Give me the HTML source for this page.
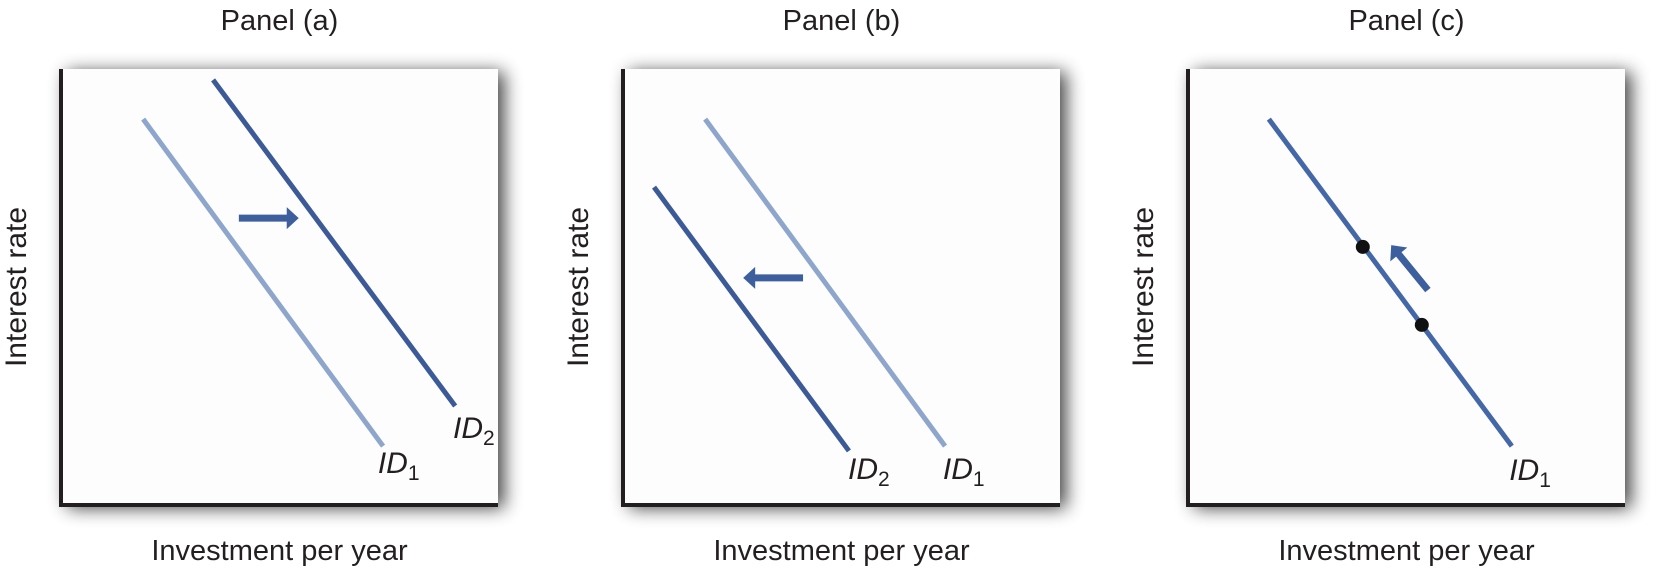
<!DOCTYPE html>
<html><head><meta charset="utf-8"><style>
html,body{margin:0;padding:0;background:#fff;width:1662px;height:570px;overflow:hidden}
svg text{font-family:"Liberation Sans",sans-serif;fill:#231f20}
</style></head><body>
<svg id="chart" width="1662" height="570" viewBox="0 0 1662 570" xmlns="http://www.w3.org/2000/svg">
<defs>
<filter id="sh" x="-12%" y="-12%" width="130%" height="130%">
<feGaussianBlur in="SourceAlpha" stdDeviation="9"/>
<feOffset dx="6" dy="3"/>
<feComponentTransfer><feFuncA type="linear" slope="0.75"/></feComponentTransfer>
<feMerge><feMergeNode/><feMergeNode in="SourceGraphic"/></feMerge>
</filter>
</defs>
</svg>
<script>
// Panel layout (pixels)
const panelLefts = [61, 623, 1188];
const panelTop = 69, panelW = 437, panelH = 436;
const panelTitles = ["Panel (a)", "Panel (b)", "Panel (c)"];
// Curve data in 0..100 data units: [x1,y1,x2,y2]
const curvesA = [[18.8, 88.5, 73.7, 13.5], [34.8, 97.5, 90.2, 22.7]];
const curvesB = [[18.8, 88.5, 73.7, 13.5], [7.1, 72.9, 51.7, 12.4]];
const curvesC = [[18.5, 88.5, 74.1, 13.5]];
const curveNames = [["ID1-light", "ID2-dark"], ["ID1-light", "ID2-dark"], ["ID1"]];
const curveColors = [["#8ea6cc", "#3b5a97"], ["#8ea6cc", "#3b5a97"], ["#4467a8"]];
const labelsA = [["1", 72.5, 7.3], ["2", 89.7, 15.4]];
const labelsB = [["2", 51.5, 6.0], ["1", 73.2, 6.0]];
const labelsC = [["1", 73.5, 5.7]];
// Arrows [x1,y1,x2,y2] (tail -> tip)
const arrows = [[40.7, 65.8, 54.4, 65.8], [41.2, 52.1, 27.5, 52.1], [54.9, 49.3, 46.5, 59.6]];
const dotsC = [[40.0, 59.2], [53.5, 41.3]];

const svg = document.getElementById('chart');
const NS = 'http://www.w3.org/2000/svg';
function mk(t, a){const e=document.createElementNS(NS,t);for(const k in a)e.setAttribute(k,a[k]);return e;}
function xs(p, v){return panelLefts[p] + v/100*panelW;}
function ys(v){return panelTop + panelH - v/100*panelH;}

const allCurves=[curvesA,curvesB,curvesC], allLabels=[labelsA,labelsB,labelsC];
for(let p=0;p<3;p++){
  const L=panelLefts[p], cx=L+panelW/2;
  const g=mk('g',{});
  
  
  svg.appendChild(g);
  const box=mk('rect',{x:L,y:panelTop,width:panelW,height:panelH,fill:'#fdfdfd',filter:'url(#sh)'});
  
  
  g.appendChild(box);
  const ax=mk('path',{d:`M${L} ${panelTop} V${panelTop+panelH} H${L+panelW}`,stroke:'#231f20','stroke-width':4,fill:'none'});
  
  
  g.appendChild(ax);
  const t=mk('text',{x:cx,y:30,'text-anchor':'middle','font-size':29});
  t.textContent=panelTitles[p];
  
  
  g.appendChild(t);
  const xt=mk('text',{x:cx,y:560,'text-anchor':'middle','font-size':29});
  xt.textContent='Investment per year';
  
  
  g.appendChild(xt);
  const yx=L-35, yy=panelTop+panelH/2;
  const yt=mk('text',{x:yx,y:yy,'text-anchor':'middle','font-size':30,transform:`rotate(-90 ${yx} ${yy})`});
  yt.textContent='Interest rate';
  
  
  g.appendChild(yt);
  allCurves[p].forEach((c,i)=>{
    const ln=mk('line',{x1:xs(p,c[0]),y1:ys(c[1]),x2:xs(p,c[2]),y2:ys(c[3]),stroke:curveColors[p][i],'stroke-width':5});
    
    
    g.appendChild(ln);
  });
  allLabels[p].forEach(l=>{
    const tx=mk('text',{x:xs(p,l[1]),y:ys(l[2]),'font-size':30,'font-style':'italic'});
    tx.innerHTML='ID<tspan font-size="21" font-style="normal" dy="7">'+l[0]+'</tspan>';
    
    
    g.appendChild(tx);
  });
  const a=arrows[p];
  const x1=xs(p,a[0]),y1=ys(a[1]),x2=xs(p,a[2]),y2=ys(a[3]);
  const ang=Math.atan2(y2-y1,x2-x1)*180/Math.PI;
  const len=Math.hypot(x2-x1,y2-y1);
  const ar=mk('path',{d:`M0 -3.5 H${len-12} V-11 L${len} 0 L${len-12} 11 V3.5 H0 Z`,fill:'#3d5f9e',transform:`translate(${x1} ${y1}) rotate(${ang})`});
  
  
  g.appendChild(ar);
  if(p===2){
    dotsC.forEach(d=>{
      const c=mk('circle',{cx:xs(p,d[0]),cy:ys(d[1]),r:7,fill:'#111'});
      
      
      g.appendChild(c);
    });
  }
}
</script>
</body></html>
